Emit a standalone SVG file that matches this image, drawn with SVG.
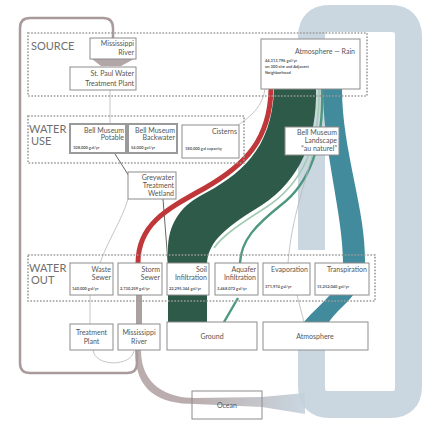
<svg xmlns="http://www.w3.org/2000/svg" width="424" height="433" viewBox="0 0 424 433">
<defs>
<style>
.box{fill:#fff;stroke:#8c8c8c;stroke-width:1}
.box2{fill:#fff;stroke:#9a9a9a;stroke-width:2}
.dbox{fill:none;stroke:#9a9a9a;stroke-width:1.6;stroke-dasharray:1.6 1.6}
.t{font-family:Lato,"Open Sans",sans-serif;font-size:7px;fill:#555}
.tr{text-anchor:end}
.tc{text-anchor:middle}
.v{font-family:Lato,"Open Sans",sans-serif;font-size:4px;fill:#555;font-weight:bold}
.sec{font-family:Lato,"Open Sans",sans-serif;font-size:11px;fill:#707070}
.thin{fill:none;stroke:#b8b8b8;stroke-width:0.8}
.dark{fill:none;stroke:#555;stroke-width:0.9}
</style>
<linearGradient id="og" x1="190" y1="0" x2="305" y2="0" gradientUnits="userSpaceOnUse">
<stop offset="0" stop-color="#b3a4a4"/><stop offset="1" stop-color="#c4d2dd"/>
</linearGradient>
</defs>
<rect width="424" height="433" fill="#fff"/>

<g id="connectors">
  <!-- big atmosphere loop -->
  <path d="M 311.5 250 L 311.5 36.5 Q 311.5 18.5 329.5 18.5 L 390.5 18.5 Q 408.5 18.5 408.5 36.5 L 408.5 386.5 Q 408.5 404.5 390.5 404.5 L 329.5 404.5 Q 311.5 404.5 311.5 386.5 L 311.5 322" fill="none" stroke="#c6d4de" stroke-width="27" opacity="0.92"/>
  <!-- ocean band -->
  <path d="M 135 350 C 135 392 160 404 195 404 L 262 407 L 305 414 L 305 393 L 262 397 L 195 398 C 168 398 141 386 141 350 Z" fill="url(#og)" opacity="0.9"/>
  <!-- left return loop -->
  <path d="M 137 350 L 137 363 Q 137 373 127 373 L 30 373 Q 20 373 20 363 L 20 28 Q 20 18 30 18 L 103 18 Q 113 18 113 28 L 113 38" fill="none" stroke="#a99b9b" stroke-width="2.5"/>
  <path d="M 93 350 C 95 367 131 367 134 351" class="thin"/>
  <!-- river to treatment funnel -->
  <path d="M 92 59 L 134 59 L 121 66 L 101 66 Z" fill="#b2a6a6"/>
  <line x1="110" y1="90" x2="110" y2="124" class="thin" stroke="#999"/>
  <!-- potable to greywater -->
  <line x1="115" y1="154" x2="129" y2="176" class="dark"/>
  <!-- greywater to soil -->
  <line x1="163" y1="199" x2="168" y2="263" class="dark"/>
  <!-- greywater to waste sewer -->
  <path d="M 128 199 C 122 220 108 240 100 263" class="thin"/>
  <!-- waste sewer to treatment plant -->
  <line x1="90" y1="295" x2="90" y2="324" class="thin" stroke="#aaa"/>
  <!-- storm sewer to mississippi -->
  <rect x="136" y="295" width="6" height="29" fill="#aaa1a1"/>
  <!-- rain to cisterns -->
  <path d="M 265 89 C 263 105 252 116 238 125" class="thin"/>
  <!-- green soil flow -->
  <path d="M 274 89 L 316 89 C 317 140 300 180 262 205 C 230 225 207 240 207 265 L 207 322 L 168 322 L 168 250 C 168 225 180 207 200 196 C 240 175 272 150 274 89 Z" fill="#2e5b49"/>
  <!-- light green edge -->
  <path d="M 319 89 C 320 142 303 184 265 208 C 240 224 222 236 214 248" fill="none" stroke="#a3cbb2" stroke-width="1.6"/>
  <!-- aquifer line -->
  <path d="M 322 89 C 324 150 306 186 281 205 C 256 225 241 240 240 263" fill="none" stroke="#4d987f" stroke-width="2.4"/>
  <line x1="238" y1="298" x2="224" y2="322" stroke="#4d987f" stroke-width="2.4"/>
  <!-- red storm flow -->
  <path d="M 271 89 C 270 140 245 165 205 188 C 165 210 138 225 138 263" fill="none" stroke="#c0373a" stroke-width="5"/>
  <!-- teal transpiration flow -->
  <path d="M 323 89 L 342 89 C 342 150 366 210 365 262 C 364 295 340 305 329 322 L 304 322 C 320 303 343 290 343 262 C 343 215 323 150 323 89 Z" fill="#418b9c"/>
  <!-- landscape to evaporation, evaporation to atmosphere -->
  <path d="M 312 155 C 305 185 292 215 288 263" class="thin" stroke="#aaa"/>
  <line x1="297" y1="295" x2="304" y2="322" class="thin" stroke="#aaa"/>
</g>

<g id="source">
  <rect x="28" y="33" width="339" height="63" class="dbox"/>
  <text x="31" y="50" class="sec">SOURCE</text>
</g>
<g id="water-use">
  <rect x="28" y="116" width="216" height="47" class="dbox"/>
  <text x="29" y="133" class="sec">WATER</text>
  <text x="31" y="145" class="sec">USE</text>
</g>
<g id="water-out">
  <rect x="28" y="255" width="347" height="46" class="dbox"/>
  <text x="29" y="272" class="sec">WATER</text>
  <text x="31" y="284" class="sec">OUT</text>
</g>

<g id="mississippi-source">
  <rect x="90" y="38" width="46" height="21" class="box"/>
  <text x="134" y="46" class="t tr">Mississippi</text>
  <text x="134" y="55" class="t tr">River</text>
</g>
<g id="st-paul">
  <rect x="70" y="67" width="66" height="23" class="box"/>
  <text x="134" y="76" class="t tr">St. Paul Water</text>
  <text x="134" y="86" class="t tr">Treatment Plant</text>
</g>
<g id="atmosphere-rain">
  <rect x="261" y="39" width="99" height="50" class="box"/>
  <text x="355" y="54" class="t tr" font-size="8">Atmosphere — Rain</text>
  <text x="265" y="62" class="v">44,313,796 gal/yr</text>
  <text x="265" y="68" class="v">on 300 site and Adjacent</text>
  <text x="265" y="74" class="v">Neighborhood</text>
</g>
<g id="potable">
  <rect x="70" y="124" width="56" height="29" class="box2"/>
  <text x="124" y="133" class="t tr">Bell Museum</text>
  <text x="124" y="140" class="t tr">Potable</text>
  <text x="73" y="149" class="v">108,000 gal/yr</text>
</g>
<g id="backwater">
  <rect x="128" y="124" width="49" height="29" class="box2"/>
  <text x="175" y="133" class="t tr">Bell Museum</text>
  <text x="175" y="140" class="t tr">Backwater</text>
  <text x="131" y="149" class="v">54,000 gal/yr</text>
</g>
<g id="cisterns">
  <rect x="182" y="125" width="57" height="33" class="box"/>
  <text x="237" y="134" class="t tr">Cisterns</text>
  <text x="185" y="150" class="v">180,000 gal capacity</text>
</g>
<g id="greywater">
  <rect x="128" y="172" width="48" height="27" class="box"/>
  <text x="174" y="180" class="t tr">Greywater</text>
  <text x="174" y="188" class="t tr">Treatment</text>
  <text x="174" y="196" class="t tr">Wetland</text>
</g>
<g id="landscape">
  <rect x="285" y="127" width="54" height="28" class="box"/>
  <text x="337" y="135" class="t tr">Bell Museum</text>
  <text x="337" y="143" class="t tr">Landscape</text>
  <text x="337" y="151" class="t tr">“au naturel”</text>
</g>
<g id="waste-sewer">
  <rect x="70" y="263" width="43" height="32" class="box"/>
  <text x="111" y="272" class="t tr">Waste</text>
  <text x="111" y="280" class="t tr">Sewer</text>
  <text x="72" y="290" class="v">140,000 gal/yr</text>
</g>
<g id="storm-sewer">
  <rect x="118" y="263" width="44" height="32" class="box"/>
  <text x="160" y="272" class="t tr">Storm</text>
  <text x="160" y="280" class="t tr">Sewer</text>
  <text x="120" y="290" class="v">2,730,259 gal/yr</text>
</g>
<g id="soil">
  <rect x="167" y="263" width="42" height="32" class="box"/>
  <text x="207" y="272" class="t tr">Soil</text>
  <text x="207" y="280" class="t tr">Infiltration</text>
  <text x="169" y="290" class="v">22,295,344 gal/yr</text>
</g>
<g id="aquifer">
  <rect x="215" y="263" width="43" height="32" class="box"/>
  <text x="256" y="272" class="t tr">Aquafer</text>
  <text x="256" y="280" class="t tr">Infiltration</text>
  <text x="217" y="290" class="v">3,468,072 gal/yr</text>
</g>
<g id="evaporation">
  <rect x="263" y="263" width="47" height="32" class="box"/>
  <text x="308" y="272" class="t tr">Evaporation</text>
  <text x="265" y="288" class="v">371,974 gal/yr</text>
</g>
<g id="transpiration">
  <rect x="315" y="263" width="54" height="32" class="box"/>
  <text x="367" y="272" class="t tr">Transpiration</text>
  <text x="317" y="288" class="v">15,252,040 gal/yr</text>
</g>
<g id="treatment-plant">
  <rect x="70" y="324" width="43" height="26" class="box"/>
  <text x="91.5" y="335" class="t tc">Treatment</text>
  <text x="91.5" y="344" class="t tc">Plant</text>
</g>
<g id="mississippi-out">
  <rect x="118" y="324" width="42" height="26" class="box"/>
  <text x="139" y="335" class="t tc">Mississippi</text>
  <text x="139" y="344" class="t tc">River</text>
</g>
<g id="ground">
  <rect x="167" y="322" width="90" height="28" class="box"/>
  <text x="212" y="339" class="t tc">Ground</text>
</g>
<g id="atmosphere">
  <rect x="263" y="322" width="105" height="28" class="box"/>
  <text x="315" y="339" class="t tc">Atmosphere</text>
</g>
<g id="ocean">
  <rect x="192" y="391" width="70" height="28" fill="none" stroke="#8c8c8c" stroke-width="1"/>
  <text x="227" y="408" class="t tc">Ocean</text>
</g>
</svg>
